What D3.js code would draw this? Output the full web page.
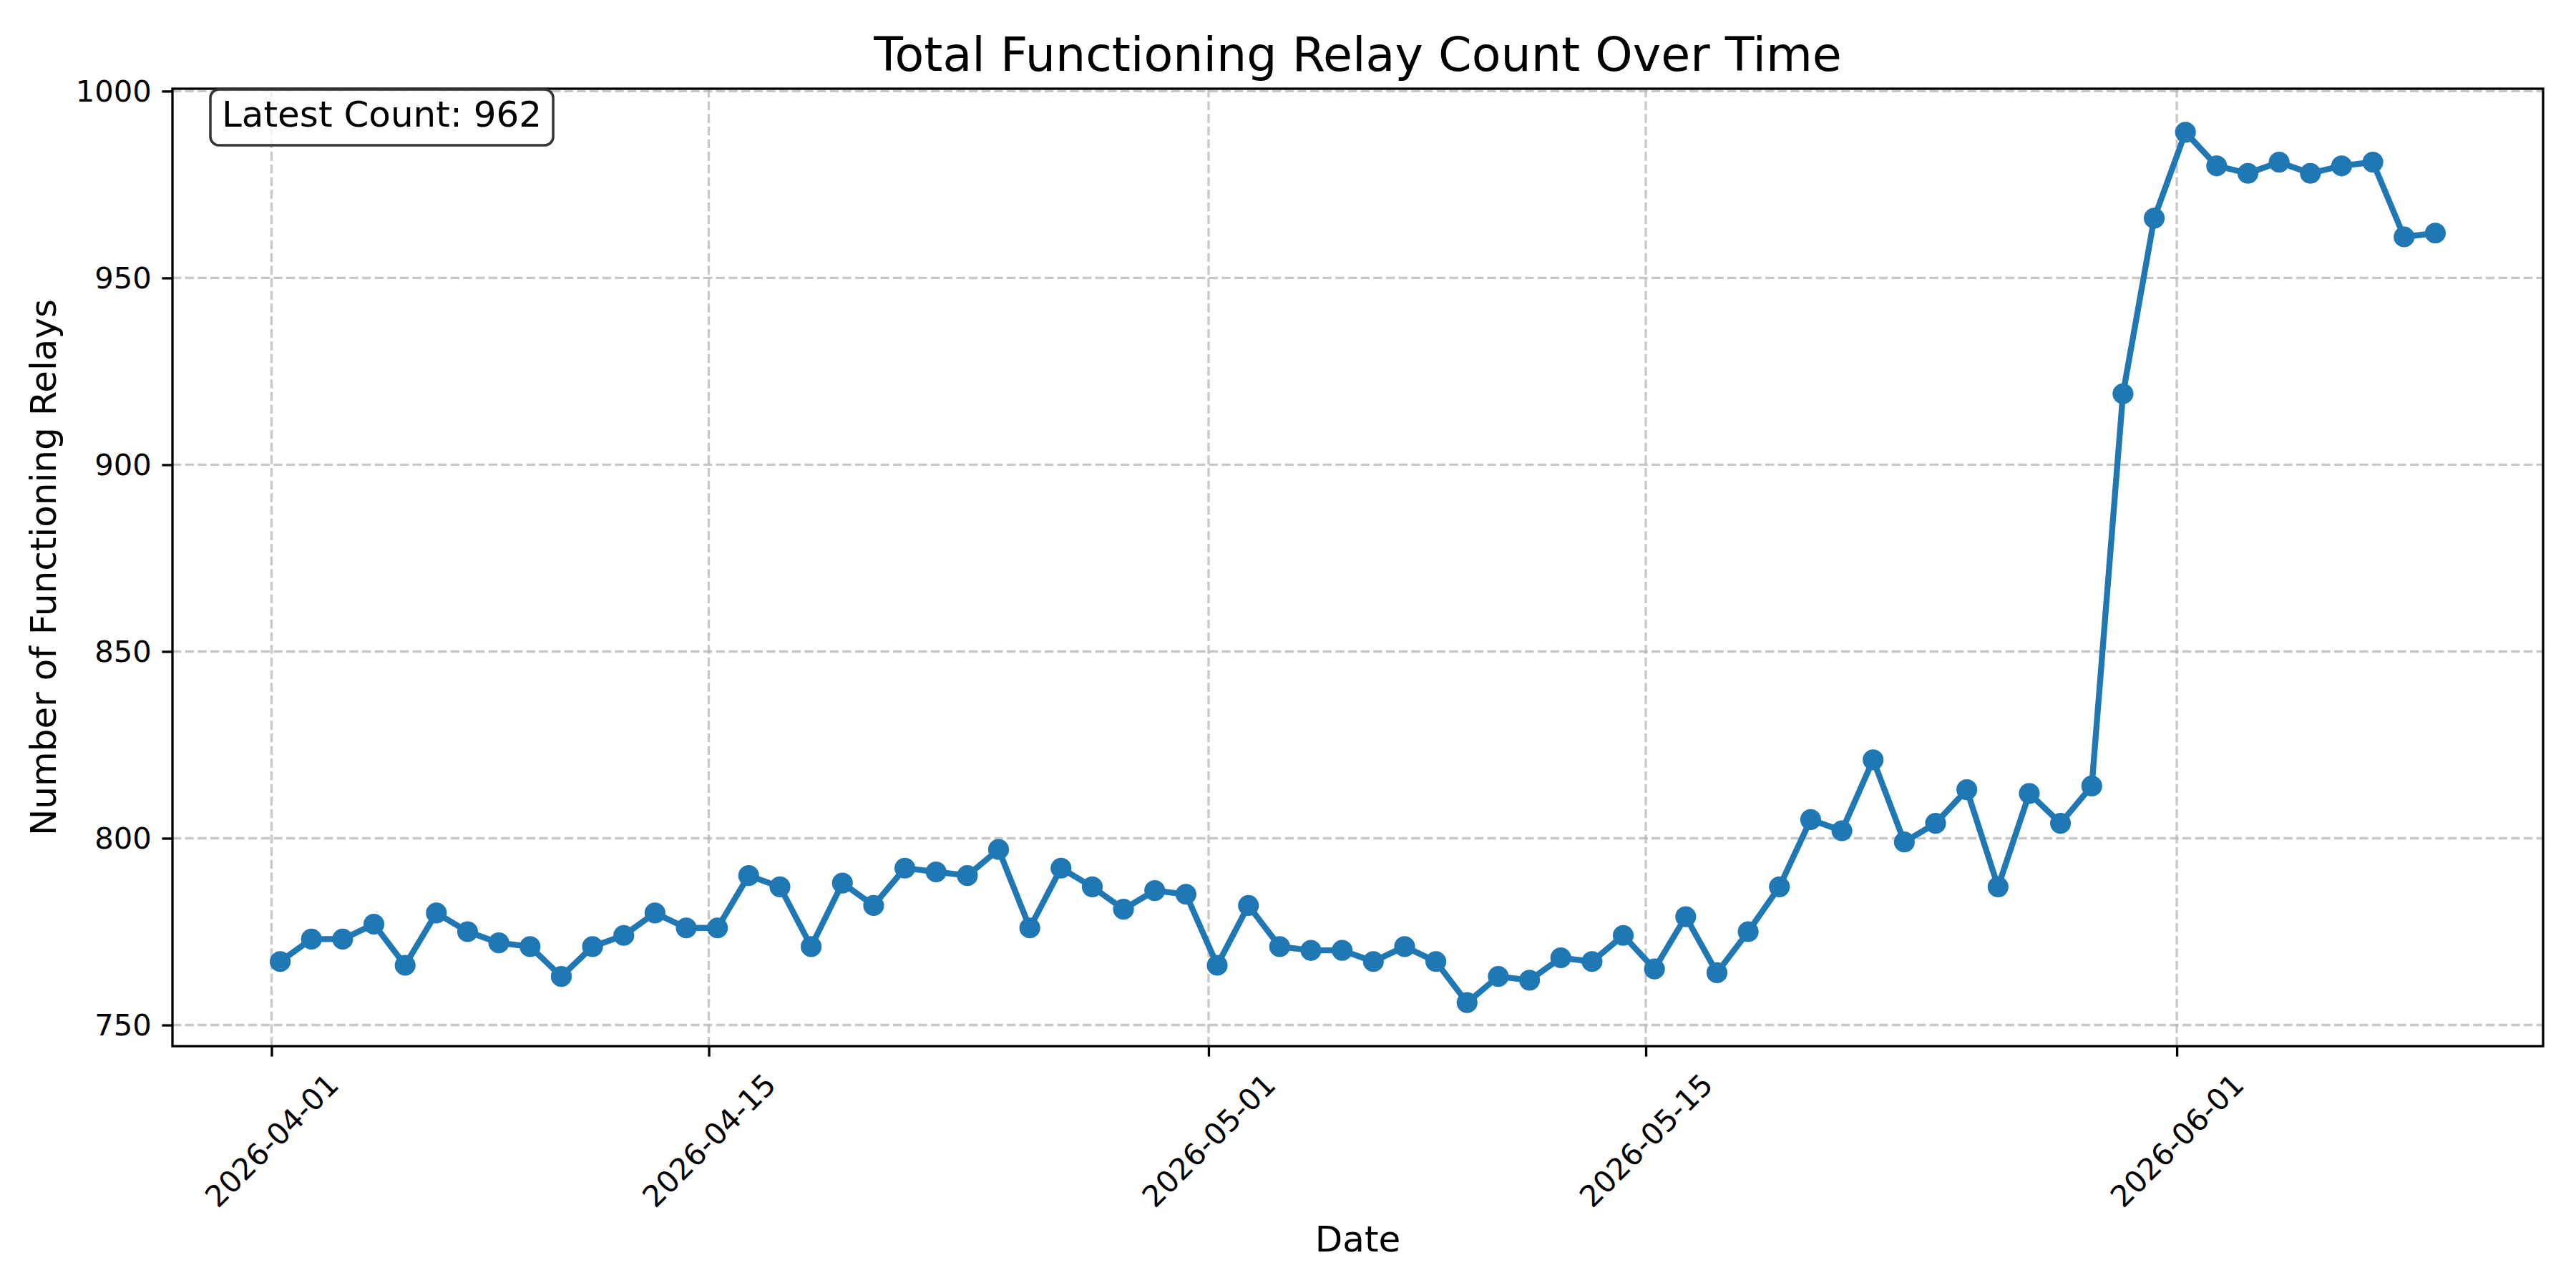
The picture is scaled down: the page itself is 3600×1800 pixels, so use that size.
<!DOCTYPE html>
<html>
<head>
<meta charset="utf-8">
<script src="https://cdn.jsdelivr.net/npm/d3@7"></script>
<style>
  body { margin: 0; background: #fff; }
  text { font-family: "DejaVu Sans", sans-serif; fill: #000; }
</style>
</head>
<body>
<div id="chart"></div>
<script>
// daily samples, all taken at roughly the same time of day
var dates = [
  "2026-04-01", "2026-04-02", "2026-04-03", "2026-04-04", "2026-04-05", "2026-04-06", "2026-04-07",
  "2026-04-08", "2026-04-09", "2026-04-10", "2026-04-11", "2026-04-12", "2026-04-13", "2026-04-14",
  "2026-04-15", "2026-04-16", "2026-04-17", "2026-04-18", "2026-04-19", "2026-04-20", "2026-04-21",
  "2026-04-22", "2026-04-23", "2026-04-24", "2026-04-25", "2026-04-26", "2026-04-27", "2026-04-28",
  "2026-04-29", "2026-04-30", "2026-05-01", "2026-05-02", "2026-05-03", "2026-05-04", "2026-05-05",
  "2026-05-06", "2026-05-07", "2026-05-08", "2026-05-09", "2026-05-10", "2026-05-11", "2026-05-12",
  "2026-05-13", "2026-05-14", "2026-05-15", "2026-05-16", "2026-05-17", "2026-05-18", "2026-05-19",
  "2026-05-20", "2026-05-21", "2026-05-22", "2026-05-23", "2026-05-24", "2026-05-25", "2026-05-26",
  "2026-05-27", "2026-05-28", "2026-05-29", "2026-05-30", "2026-05-31", "2026-06-01", "2026-06-02",
  "2026-06-03", "2026-06-04", "2026-06-05", "2026-06-06", "2026-06-07", "2026-06-08", "2026-06-09"
];
var sampleTime = "06:40";

var counts = [
  767, 773, 773, 777, 766, 780, 775,
  772, 771, 763, 771, 774, 780, 776,
  776, 790, 787, 771, 788, 782, 792,
  791, 790, 797, 776, 792, 787, 781,
  786, 785, 766, 782, 771, 770, 770,
  767, 771, 767, 756, 763, 762, 768,
  767, 774, 765, 779, 764, 775, 787,
  805, 802, 821, 799, 804, 813, 787,
  812, 804, 814, 919, 966, 989, 980,
  978, 981, 978, 980, 981, 961, 962
];

var yTicks = [750, 800, 850, 900, 950, 1000];
var xTicks = ["2026-04-01", "2026-04-15", "2026-05-01", "2026-05-15", "2026-06-01"];

var title = "Total Functioning Relay Count Over Time";
var xLabel = "Date";
var yLabel = "Number of Functioning Relays";

var W = 3600, H = 1800;
var margin = {top: 124, right: 46, bottom: 338, left: 241};
var width = W - margin.left - margin.right,
    height = H - margin.top - margin.bottom;

var pt = 300 / 72;            // figure was 300 dpi
var tickLen = 3.5 * pt, tickPad = 3.5 * pt;
var tickFont = 10 * pt, labelFont = 12 * pt, titleFont = 16 * pt;
var blue = "#1f77b4";

var parseStamp = d3.timeParse("%Y-%m-%dT%H:%M");
var parseDay = d3.timeParse("%Y-%m-%d");

var data = dates.map(function(d, i) {
  return { date: parseStamp(d + "T" + sampleTime), value: counts[i] };
});

// matplotlib-like 5% margins
var xExt = d3.extent(data, function(d) { return d.date; });
var xPad = (xExt[1] - xExt[0]) * 0.05;
var x = d3.scaleTime()
    .domain([new Date(+xExt[0] - xPad), new Date(+xExt[1] + xPad)])
    .range([0, width]);

var yExt = d3.extent(counts);
var yPad = (yExt[1] - yExt[0]) * 0.05;
var y = d3.scaleLinear()
    .domain([yExt[0] - yPad, yExt[1] + yPad])
    .range([height, 0]);

var svg = d3.select("#chart").append("svg")
    .attr("width", W)
    .attr("height", H)
    .style("background", "#fff");

var g = svg.append("g")
    .attr("transform", "translate(" + margin.left + "," + margin.top + ")");

var xTickDates = xTicks.map(function(d) { return parseDay(d); });

// grid
var grid = g.append("g").attr("class", "grid")
    .attr("stroke", "#b0b0b0")
    .attr("stroke-opacity", 0.7)
    .attr("stroke-width", 0.8 * pt)
    .attr("stroke-dasharray", (3.7 * 0.8 * pt) + "," + (1.6 * 0.8 * pt));

grid.selectAll(".gx")
    .data(xTickDates)
  .enter().append("line")
    .attr("x1", function(d) { return x(d); })
    .attr("x2", function(d) { return x(d); })
    .attr("y1", 0)
    .attr("y2", height);

grid.selectAll(".gy")
    .data(yTicks)
  .enter().append("line")
    .attr("x1", 0)
    .attr("x2", width)
    .attr("y1", function(d) { return y(d); })
    .attr("y2", function(d) { return y(d); });

// the series
var line = d3.line()
    .x(function(d) { return x(d.date); })
    .y(function(d) { return y(d.value); });

g.append("path")
    .datum(data)
    .attr("fill", "none")
    .attr("stroke", blue)
    .attr("stroke-width", 2 * pt)
    .attr("stroke-linejoin", "round")
    .attr("d", line);

g.selectAll(".dot")
    .data(data)
  .enter().append("circle")
    .attr("class", "dot")
    .attr("cx", function(d) { return x(d.date); })
    .attr("cy", function(d) { return y(d.value); })
    .attr("r", 3.5 * pt)
    .attr("fill", blue);

// axes
var yAxis = g.append("g")
    .attr("class", "axis axis--y")
    .call(d3.axisLeft(y).tickValues(yTicks)
            .tickFormat(d3.format("d"))
            .tickSize(tickLen).tickPadding(tickPad));

var xAxis = g.append("g")
    .attr("class", "axis axis--x")
    .attr("transform", "translate(0," + height + ")")
    .call(d3.axisBottom(x).tickValues(xTickDates)
            .tickFormat(d3.timeFormat("%Y-%m-%d"))
            .tickSize(tickLen).tickPadding(tickPad));

g.selectAll(".axis .domain").remove();
g.selectAll(".axis line")
    .attr("stroke", "#000")
    .attr("stroke-width", 0.8 * pt);
g.selectAll(".axis text")
    .style("font-family", "'DejaVu Sans', sans-serif")
    .style("font-size", tickFont + "px")
    .attr("fill", "#000");

yAxis.selectAll("text").attr("dy", "0.346em");

// rotated date labels, bbox centred under the tick like matplotlib
xAxis.selectAll(".tick text").each(function() {
  var t = d3.select(this);
  var len = this.getComputedTextLength();
  var side = (len + tickFont * 1.164) * Math.SQRT1_2;
  t.attr("y", null).attr("dy", "0.346em")
   .attr("text-anchor", "middle")
   .attr("transform", "translate(0," + (tickLen + tickPad + side / 2) + ") rotate(-45)");
});

// spines
g.append("rect")
    .attr("width", width)
    .attr("height", height)
    .attr("fill", "none")
    .attr("stroke", "#000")
    .attr("stroke-width", 0.8 * pt);

// labels
svg.append("text")
    .attr("x", margin.left + width / 2)
    .attr("y", 99)
    .attr("text-anchor", "middle")
    .style("font-size", titleFont + "px")
    .text(title);

svg.append("text")
    .attr("x", margin.left + width / 2)
    .attr("y", 1749)
    .attr("text-anchor", "middle")
    .style("font-size", labelFont + "px")
    .text(xLabel);

svg.append("text")
    .attr("transform", "translate(78," + (margin.top + height / 2) + ") rotate(-90)")
    .attr("text-anchor", "middle")
    .style("font-size", labelFont + "px")
    .text(yLabel);

// latest count badge
var badge = svg.append("g");
var badgeText = badge.append("text")
    .attr("x", 310)
    .attr("y", 177)
    .style("font-size", labelFont + "px")
    .text("Latest Count: " + counts[counts.length - 1]);
var bb = badgeText.node().getBBox();
badge.insert("rect", "text")
    .attr("x", bb.x - 16)
    .attr("y", bb.y - 6)
    .attr("width", bb.width + 32)
    .attr("height", bb.height + 20)
    .attr("rx", 12)
    .attr("ry", 12)
    .attr("fill", "#fff")
    .attr("fill-opacity", 0.8)
    .attr("stroke", "#333")
    .attr("stroke-width", 3.5);
</script>
</body>
</html>
